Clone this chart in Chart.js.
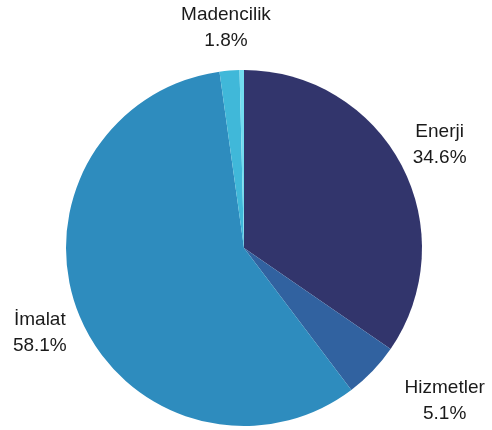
<!DOCTYPE html>
<html>
<head>
<meta charset="utf-8">
<script src="https://cdn.jsdelivr.net/npm/chart.js@4/dist/chart.umd.min.js"></script>
<style>
  html, body { margin: 0; padding: 0; background: #fff; }
  #wrap { width: 492px; height: 430px; }
</style>
</head>
<body>
<div id="wrap"><canvas id="pie"></canvas></div>
<script>
const sectors = ["Enerji", "Hizmetler", "İmalat", "Madencilik", "Diğer"];
const shares = [34.6, 5.1, 58.1, 1.8, 0.4];
const sliceColors = ["#32356c", "#3162a0", "#2e8cbe", "#40b8d9", "#72dcef"];

// small slices get no label, the rest get name + percent outside the pie
const outsideLabels = {
  id: "outsideLabels",
  afterDraw(chart, args, opts) {
    const ctx = chart.ctx;
    const arcs = chart.getDatasetMeta(0).data;
    ctx.save();
    ctx.font = "19px 'Liberation Sans', Arial, sans-serif";
    ctx.fillStyle = "#1a1a1a";
    ctx.textAlign = "center";
    ctx.textBaseline = "middle";
    arcs.forEach((arc, i) => {
      if (shares[i] < 1) return;
      const mid = (arc.startAngle + arc.endAngle) / 2;
      const r = arc.outerRadius + opts.gap;
      let x = arc.x + Math.cos(mid) * r + (opts.nudge[sectors[i]] || 0);
      let y = arc.y + Math.sin(mid) * r;
      ctx.fillText(sectors[i], x, y - 13);
      ctx.fillText(shares[i].toFixed(1) + "%", x, y + 13);
    });
    ctx.restore();
  }
};

new Chart(document.getElementById("pie"), {
  type: "pie",
  data: {
    labels: sectors,
    datasets: [{
      data: shares,
      backgroundColor: sliceColors,
      borderWidth: 0
    }]
  },
  options: {
    responsive: true,
    maintainAspectRatio: false,
    animation: false,
    layout: { padding: { left: 66, right: 70, top: 70, bottom: 4 } },
    plugins: {
      legend: { display: false },
      tooltip: { enabled: false },
      outsideLabels: { gap: 43, nudge: { "Hizmetler": 41 } }
    }
  },
  plugins: [outsideLabels]
});
</script>
</body>
</html>
